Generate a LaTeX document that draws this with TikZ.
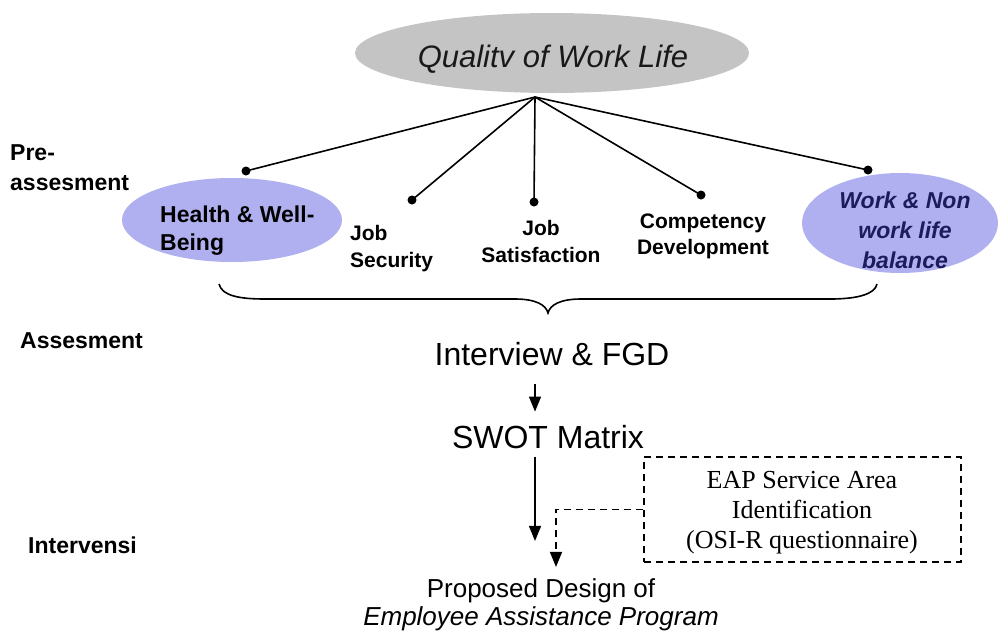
\documentclass[tikz,border=0pt]{standalone}
\usepackage{fontspec}
\setmainfont{Liberation Sans}
\newfontfamily\tnr{Liberation Serif}
\usetikzlibrary{arrows.meta,shapes.geometric,calc}
\definecolor{qgray}{RGB}{196,196,196}
\definecolor{lblue}{RGB}{176,176,240}
\definecolor{navy}{RGB}{28,28,92}
\begin{document}
\begin{tikzpicture}[x=1pt,y=-1pt,
  lbl/.style={inner sep=0pt,font=\fontsize{23}{28}\selectfont\bfseries},
  big/.style={inner sep=0pt,font=\fontsize{32}{36}\selectfont},
  dotn/.style={circle,fill=black,inner sep=0pt,minimum size=9pt},
  spoke/.style={line width=1.6pt},
  arr/.style={line width=1.4pt,-{Triangle[length=15pt,width=12pt]}},
  darr/.style={line width=1.4pt,dash pattern=on 7pt off 5pt,-{Triangle[length=15pt,width=12pt]}},
  oval/.style={ellipse,inner sep=0pt}]
\useasboundingbox (0,0) rectangle (999,633);

% top ellipse
\node[oval,fill=qgray,minimum width=394pt,minimum height=80pt] (qwl) at (552,53) {};
\node[inner sep=0pt,anchor=base,font=\fontsize{31}{36}\selectfont\itshape,text=black!90] (qwlt) at (553,67) {Qualitv of Work Life};
\coordinate (hub) at (535,97);

% side ellipses
\node[oval,fill=lblue,minimum width=220pt,minimum height=84pt] (hwe) at (232,220) {};
\node[oval,fill=lblue,minimum width=196pt,minimum height=100pt] (wnw) at (900,223) {};

% dots
\node[dotn] (d1) at (246,171) {};
\node[dotn] (d2) at (412,200) {};
\node[dotn] (d3) at (534,202) {};
\node[dotn] (d4) at (701,195) {};
\node[dotn] (d5) at (868,170) {};
\foreach \d in {d1,d2,d3,d4,d5} \draw[spoke] (hub) -- (\d.center);

% labels (base anchor = baseline of last line)
\node[lbl,anchor=base west,align=left,font=\fontsize{23}{30}\selectfont\bfseries] (pre) at (10,190) {Pre-\\assesment};
\node[lbl,anchor=base west] (ases) at (20,348) {Assesment};
\node[lbl,anchor=base west] (intv) at (28,553) {Intervensi};

\node[lbl,anchor=base west,align=left] (hwt) at (160,250) {Health \& Well-\\Being};
\node[lbl,anchor=base west,align=left,font=\fontsize{21}{27}\selectfont\bfseries] (jsec) at (350,267) {Job\\Security};
\node[lbl,anchor=base,align=center,font=\fontsize{21}{27}\selectfont\bfseries] (jsat) at (541,262) {Job\\Satisfaction};
\node[lbl,anchor=base,align=center,font=\fontsize{21}{26}\selectfont\bfseries] (comp) at (703,254) {Competency\\Development};
\node[lbl,anchor=base,align=center,text=navy,font=\fontsize{23}{30}\selectfont\bfseries\itshape] (wnwt) at (905,268) {Work \& Non\\work life\\balance};

% brace
\draw[line width=1.6pt] (219,284) .. controls (222,296) and (240,299) .. (265,299)
  -- (515,299) .. controls (536,299) and (546,305) .. (548,313)
  .. controls (550,305) and (560,299) .. (581,299)
  -- (830,299) .. controls (858,299) and (875,294) .. (877,284);

% flow
\coordinate (ax) at (535,0);
\coordinate (dx) at (556,0);
\node[big,anchor=base] (intf) at (552,365) {Interview \& FGD};
\node[big,anchor=base] (swot) at (548,448) {SWOT Matrix};
\node[inner sep=0pt,anchor=base,align=center,font=\fontsize{26}{28}\selectfont] (prop) at (541,625) {Proposed Design of\\\textit{Employee Assistance Program}};
\node[draw,line width=1.4pt,dash pattern=on 7pt off 5pt,minimum width=317pt,minimum height=105pt,inner sep=0pt] (eap) at (802.5,509.5) {};
\node[inner sep=0pt,anchor=base,align=center,font=\tnr\fontsize{26}{30}\selectfont] (eapt) at (802,548) {EAP Service Area\\Identification\\(OSI-R questionnaire)};

\draw[arr] ($(intf.south -| ax)+(0,18)$) -- ($(swot.north -| ax)+(0,-13)$);
\draw[arr] ($(swot.south -| ax)+(0,8)$) -- ($(prop.north -| ax)+(0,-37)$);
\draw[darr] (eap.west) -| ($(prop.north -| dx)+(0,-11)$);
\end{tikzpicture}
\end{document}
